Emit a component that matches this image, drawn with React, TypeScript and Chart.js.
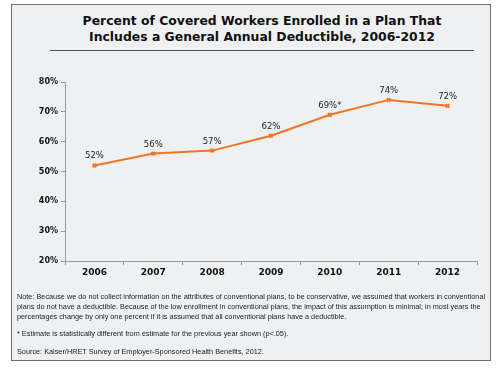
import React, { useEffect, useRef } from "react";
import { Chart, registerables } from "chart.js";

Chart.register(...registerables);

const years = ["2006", "2007", "2008", "2009", "2010", "2011", "2012"];
const percentEnrolled = [52, 56, 57, 62, 69, 74, 72];
const pointLabels = ["52%", "56%", "57%", "62%", "69%*", "74%", "72%"];
const yTicks = [20, 30, 40, 50, 60, 70, 80];

const titleLines = [
  "Percent of Covered Workers Enrolled in a Plan That",
  "Includes a General Annual Deductible, 2006-2012",
];
const noteLines = [
  "Note: Because we do not collect information on the attributes of conventional plans, to be conservative, we assumed that workers in conventional",
  "plans do not have a deductible.  Because of the low enrollment in conventional plans, the impact of this assumption is minimal;  in most years the",
  "percentages change by only one percent if it is assumed that all conventional plans have a deductible.",
];
const starNote = "* Estimate is statistically different from estimate for the previous year shown (p<.05).";
const sourceNote = "Source: Kaiser/HRET Survey of Employer-Sponsored Health Benefits, 2012.";

const ORANGE = "#f07522";

const labelPlugin = {
  id: "pointLabels",
  afterDatasetsDraw(chart: any) {
    const ctx = chart.ctx;
    const meta = chart.getDatasetMeta(0);
    ctx.save();
    ctx.font = "8.5px 'DejaVu Sans'";
    ctx.fillStyle = "#222";
    ctx.textAlign = "center";
    ctx.textBaseline = "bottom";
    meta.data.forEach((pt: any, i: number) => {
      ctx.fillText(pointLabels[i], pt.x, pt.y - 5);
    });
    ctx.restore();
  },
};

export default function App() {
  const ref = useRef<HTMLCanvasElement>(null);
  useEffect(() => {
    if (!ref.current) return;
    const chart = new Chart(ref.current, {
      type: "line",
      data: {
        labels: years,
        datasets: [
          {
            data: percentEnrolled,
            borderColor: ORANGE,
            backgroundColor: ORANGE,
            borderWidth: 2,
            pointStyle: "crossRot",
            pointRadius: 2.5,
            pointBorderWidth: 2,
            tension: 0,
          },
        ],
      },
      options: {
        animation: false,
        responsive: false,
        maintainAspectRatio: false,
        layout: { padding: { left: 0, top: 82, right: 23, bottom: 87 } },
        plugins: { legend: { display: false }, tooltip: { enabled: false } },
        scales: {
          x: {
            offset: true,
            afterFit: (s: any) => {
              s.height = 20;
            },
            grid: {
              offset: true,
              drawOnChartArea: false,
              drawTicks: true,
              tickLength: 4,
              color: "#9a9a9a",
            },
            border: { color: "#9a9a9a", width: 1 },
            ticks: {
              color: "#111",
              font: { family: "'DejaVu Sans'", size: 9, weight: "bold" },
              padding: 2,
              maxRotation: 0,
            },
          },
          y: {
            min: 20,
            max: 80,
            afterFit: (s: any) => {
              s.width = 65;
            },
            afterBuildTicks: (s: any) => {
              s.ticks = yTicks.map((v) => ({ value: v }));
            },
            grid: {
              drawOnChartArea: false,
              drawTicks: true,
              tickLength: 4,
              color: "#9a9a9a",
            },
            border: { color: "#9a9a9a", width: 1 },
            ticks: {
              color: "#111",
              font: { family: "'DejaVu Sans'", size: 8, weight: "bold" },
              padding: 3,
              callback: (v: any) => v + "%",
            },
          },
        },
      },
      plugins: [labelPlugin],
    });
    return () => chart.destroy();
  }, []);

  const noteStyle: React.CSSProperties = {
    position: "absolute",
    left: 17,
    whiteSpace: "nowrap",
    fontFamily: "'Liberation Sans', Arial, sans-serif",
    fontSize: 7.3,
    color: "#222",
    lineHeight: "10px",
  };

  return (
    <div style={{ position: "absolute", left: 0, top: 0, width: 500, height: 368, background: "#fff" }}>
      <div
        style={{
          position: "absolute",
          left: 11,
          top: 4,
          width: 478,
          height: 355,
          background: "#eef0f2",
          border: "1px solid #6e6e6e",
        }}
      />
      <div
        style={{
          position: "absolute",
          left: 50,
          width: 424,
          top: 13,
          textAlign: "center",
          fontFamily: "'DejaVu Sans', Verdana, sans-serif",
          fontWeight: "bold",
          fontSize: 12.4,
          lineHeight: "16px",
          color: "#111",
        }}
      >
        {titleLines.map((l, i) => (
          <div key={i}>{l}</div>
        ))}
      </div>
      <div style={{ position: "absolute", left: 50, top: 50, width: 424, height: 1, background: "#555" }} />
      <canvas ref={ref} width={500} height={368} style={{ position: "absolute", left: 0, top: 0 }} />
      <div style={{ ...noteStyle, top: 292 }}>
        {noteLines.map((l, i) => (
          <div key={i}>{l}</div>
        ))}
      </div>
      <div style={{ ...noteStyle, top: 329 }}>{starNote}</div>
      <div style={{ ...noteStyle, top: 347 }}>{sourceNote}</div>
    </div>
  );
}
